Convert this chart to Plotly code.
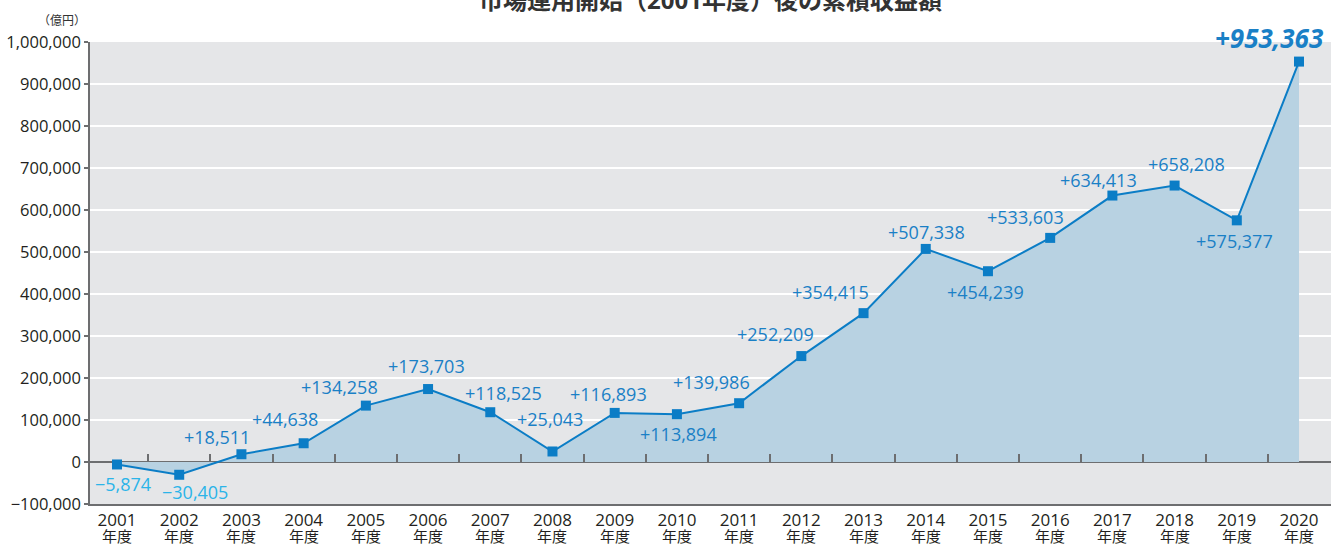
import plotly.graph_objects as go

years = [str(y) for y in range(2001, 2021)]
values = [-5874, -30405, 18511, 44638, 134258, 173703, 118525, 25043, 116893, 113894,
          139986, 252209, 354415, 507338, 454239, 533603, 634413, 658208, 575377, 953363]
y_ticks = list(range(-100000, 1000001, 100000))
year_suffix = "年度"

title_text = "市場運用開始（2001年度）後の累積収益額"
unit_text = "（億円）"

# label offsets in pixels (style)
label_dx = [6, 16, -24, -19, -26, -2, 13, -2, -6, 2, -28, -26, -33, 1, -2, -25, -14, 12, -2, -30]
label_dy = [20, 17, -17, -24, -19, -23, -19, -32, -19, 20, -21, -22, -21, -17, 21, -21, -16, -22, 21, -24]

LINE = "#0b7dc6"
FILL = "#b8d2e2"
BG = "#e5e6e8"
AXIS = "#6d6e70"
POS = "#1a80c6"
NEG = "#2bb4e8"
FONT = "Open Sans, Noto Sans CJK JP, sans-serif"
CJK = "Noto Sans CJK JP, sans-serif"

x = list(range(len(years)))

fig = go.Figure()
fig.add_trace(go.Scatter(
    x=x, y=values, mode="lines+markers",
    line=dict(color=LINE, width=2),
    marker=dict(symbol="square", size=10, color=LINE),
    fill="tozeroy", fillcolor=FILL,
    showlegend=False, hoverinfo="skip",
))
# dummy trace to render the tick axis on the zero line
fig.add_trace(go.Scatter(x=[x[0]], y=[None], xaxis="x2", showlegend=False, hoverinfo="skip"))

mids = [i + 0.5 for i in x[:-1]]

annotations = []
for i, v in enumerate(values):
    txt = f"{v:+,}".replace("-", "\u2212")
    last = i == len(values) - 1
    if last:
        font = dict(family=FONT, size=26, color=POS)
        txt = f"<b><i>{txt}</i></b>"
    else:
        font = dict(family=FONT, size=18, color=NEG if v < 0 else POS)
    annotations.append(dict(
        x=x[i], y=v, xref="x", yref="y", text=txt, showarrow=False,
        xshift=label_dx[i], yshift=-label_dy[i], font=font,
        xanchor="center", yanchor="middle",
    ))

for i in x:
    annotations.append(dict(
        x=i, y=-0.0692, xref="x", yref="paper", text=year_suffix, showarrow=False,
        xanchor="center", yanchor="middle",
        font=dict(family=CJK, size=15, color="#231f20"),
    ))

annotations.append(dict(
    x=0.5, y=1.052, xref="paper", yref="paper", text=f"<b>{title_text}</b>",
    showarrow=False, xanchor="center", yanchor="bottom",
    font=dict(family=FONT, size=24, color="#333333"),
))
annotations.append(dict(
    x=-0.0015, y=1.048, xref="paper", yref="paper", text=unit_text,
    showarrow=False, xanchor="right", yanchor="middle",
    font=dict(family=CJK, size=12, color="#333333"),
))

xr = [-0.434, 19.514]
fig.update_layout(
    width=1331, height=544,
    margin=dict(l=90, r=0, t=42, b=40, autoexpand=False),
    paper_bgcolor="white", plot_bgcolor=BG,
    font=dict(family=FONT, size=16, color="#231f20"),
    xaxis=dict(
        range=xr, tickmode="array", tickvals=x, ticktext=years, automargin=False,
        showgrid=False, zeroline=False, showline=True, linecolor=AXIS, linewidth=1.5,
        ticks="", ticklabelstandoff=0,
        tickfont=dict(size=17, family=FONT, color="#231f20"),
    ),
    xaxis2=dict(
        range=xr, overlaying="x", anchor="free", position=1/11, side="top",
        tickmode="array", tickvals=mids, ticks="outside", ticklen=8, tickwidth=1.5,
        tickcolor=AXIS, showticklabels=False, showgrid=False, zeroline=False, showline=False,
        automargin=False,
    ),
    yaxis=dict(
        range=[-100000, 1000000], tickmode="array", tickvals=y_ticks, automargin=False,
        tickformat=",", showgrid=True, gridcolor="white", gridwidth=2,
        zeroline=True, zerolinecolor=AXIS, zerolinewidth=1.5,
        showline=True, linecolor=AXIS, linewidth=1.5,
        ticks="outside", ticklen=4, tickcolor=AXIS, tickwidth=1.5,
        tickfont=dict(size=16.5, family=FONT, color="#231f20"),
    ),
    annotations=annotations,
)

fig.write_html(
    "out.html",
    config={"displayModeBar": False},
    post_script="document.body.style.margin='0';document.body.style.overflow='hidden';",
)
